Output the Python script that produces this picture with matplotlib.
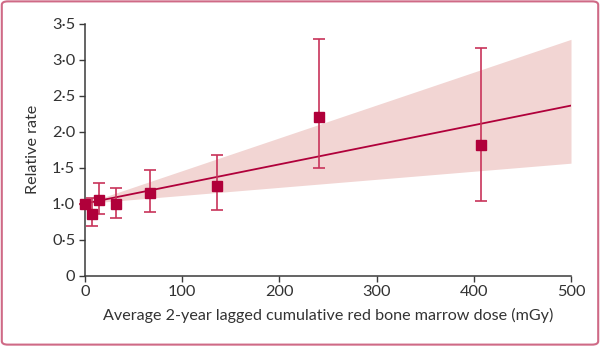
import matplotlib
matplotlib.use("Agg")
import matplotlib.pyplot as plt
from matplotlib.patches import FancyBboxPatch
import numpy as np

plt.rcParams['font.family'] = ['Lato', 'DejaVu Sans']

# Data
dose = [0, 7, 14, 31.5, 66.5, 136, 241, 407]
rr = [1.00, 0.86, 1.05, 1.00, 1.14, 1.24, 2.20, 1.81]
ci_lo = [1.00, 0.69, 0.85, 0.80, 0.88, 0.91, 1.50, 1.04]
ci_hi = [1.00, 1.07, 1.28, 1.21, 1.47, 1.67, 3.28, 3.16]

# Fitted linear model: RR = 1 + ERR * dose
err_per_mGy = 0.00272
err_lo = 0.00112
err_hi = 0.00456
fit_range = [0, 500]

xticks = [0, 100, 200, 300, 400, 500]
yticks = [0, 0.5, 1.0, 1.5, 2.0, 2.5, 3.0, 3.5]
ytick_labels = ['0', '0·5', '1·0', '1·5', '2·0', '2·5', '3·0', '3·5']

RED = '#b0003a'
ERRC = '#c8345a'
BAND = '#f2d5d3'
AX = '#3a3a3a'

fig = plt.figure(figsize=(6, 3.46), dpi=100)
ax = fig.add_axes([85/600, (346-275.5)/346, 486/600, 252/346])

xs = np.array(fit_range, dtype=float)
ax.fill_between(xs, 1 + err_lo*xs, 1 + err_hi*xs, color=BAND, lw=0, zorder=1)
ax.plot(xs, 1 + err_per_mGy*xs, color=RED, lw=1.3, zorder=2)

d = np.array(dose); r = np.array(rr)
yerr = np.vstack([r - np.array(ci_lo), np.array(ci_hi) - r])
ax.errorbar(d, r, yerr=yerr, fmt='none', ecolor=ERRC, elinewidth=1.2,
             capsize=4, capthick=1.2, zorder=3, clip_on=False)
ax.plot(d, r, 's', color=RED, markersize=6.8, zorder=4, clip_on=False)

ax.set_xlim(0, 500)
ax.set_ylim(0, 3.5)
ax.set_xticks(xticks)
ax.set_yticks(yticks)
ax.set_yticklabels(ytick_labels)
for s in ['top', 'right']:
    ax.spines[s].set_visible(False)
for s in ['left', 'bottom']:
    ax.spines[s].set_color(AX)
    ax.spines[s].set_linewidth(1.1)
ax.tick_params(direction='out', length=4, width=1, color=AX, labelsize=11.8,
               labelcolor='#333333', pad=3)
ax.set_xlabel('Average 2-year lagged cumulative red bone marrow dose (mGy)',
              fontsize=11.6, color='#333333', labelpad=6)
ax.set_ylabel('Relative rate', fontsize=11.6, color='#333333', labelpad=9)

border = FancyBboxPatch((0.003, 0.004), 0.994, 0.992,
                        boxstyle='round,pad=0,rounding_size=0.01',
                        transform=fig.transFigure, fill=False,
                        edgecolor='#cf6a86', lw=1.5)
fig.patches.append(border)

fig.savefig('out.png', dpi=100)
